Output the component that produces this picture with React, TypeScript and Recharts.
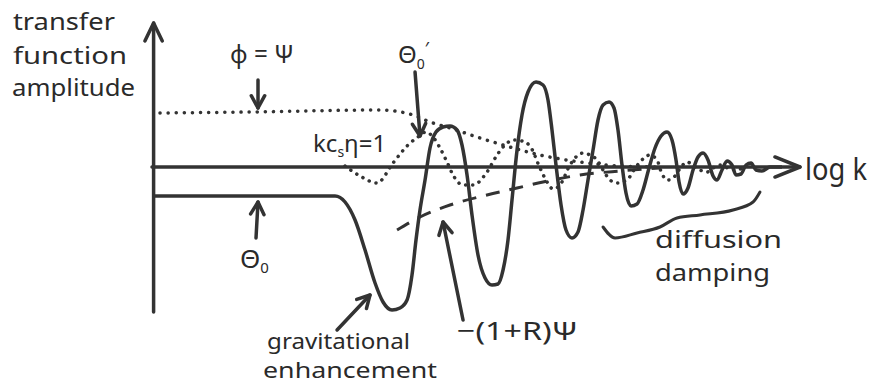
import React from 'react';
import { ComposedChart, Line, XAxis, YAxis, ReferenceLine, ReferenceDot } from 'recharts';

// x: log k (arbitrary units), y: transfer function amplitude (arbitrary units)
const theta0K = [0.02, 1.225, 2.288, 2.413, 2.538, 2.663, 2.788, 2.888, 3.0, 3.1, 3.188, 3.25, 3.3, 3.35, 3.413, 3.475, 3.55, 3.638, 3.725, 3.813, 3.875, 3.938, 4.0, 4.075, 4.163, 4.25, 4.325, 4.388, 4.45, 4.5, 4.563, 4.625, 4.7, 4.8, 4.888, 4.95, 5.0, 5.05, 5.113, 5.175, 5.25, 5.325, 5.388, 5.45, 5.513, 5.575, 5.638, 5.713, 5.775, 5.825, 5.875, 5.925, 5.988, 6.063, 6.138, 6.213, 6.288, 6.363, 6.438, 6.5, 6.55, 6.588, 6.638, 6.7, 6.763, 6.825, 6.888, 6.95, 7.013, 7.063, 7.125, 7.188, 7.25, 7.3, 7.363, 7.425, 7.488, 7.55, 7.625, 7.725, 7.875];
const theta0Amp = [-0.29, -0.29, -0.29, -0.35, -0.53, -0.83, -1.16, -1.35, -1.43, -1.41, -1.33, -1.08, -0.73, -0.43, -0.13, 0.19, 0.35, 0.4, 0.41, 0.37, 0.22, -0.08, -0.48, -0.88, -1.11, -1.18, -1.17, -1.03, -0.73, -0.33, 0.17, 0.52, 0.75, 0.85, 0.82, 0.67, 0.37, 0.02, -0.38, -0.63, -0.71, -0.65, -0.43, -0.13, 0.17, 0.47, 0.62, 0.65, 0.59, 0.37, 0.02, -0.26, -0.39, -0.37, -0.23, -0.01, 0.19, 0.31, 0.35, 0.27, 0.07, -0.15, -0.27, -0.21, -0.03, 0.1, 0.14, 0.07, -0.09, -0.13, -0.03, 0.06, 0.02, -0.08, -0.07, 0.02, 0.04, -0.03, -0.04, 0.0, 0.0];

const theta0PrimeK = [2.413, 2.6, 2.813, 3.013, 3.188, 3.325, 3.425, 3.513, 3.6, 3.688, 3.763, 3.888, 4.013, 4.188, 4.313, 4.413, 4.513, 4.625, 4.725, 4.85, 4.938, 5.013, 5.1, 5.225, 5.313, 5.388, 5.475, 5.563, 5.638, 5.725, 5.813, 5.938, 6.025, 6.1, 6.225, 6.313, 6.375, 6.45, 6.538, 6.613, 6.688, 6.775, 6.85, 6.938, 7.013, 7.1, 7.2, 7.288, 7.413];
const theta0PrimeAmp = [0.01, -0.09, -0.16, 0.04, 0.21, 0.3, 0.35, 0.3, 0.19, 0.05, -0.08, -0.18, -0.18, -0.05, 0.12, 0.22, 0.27, 0.26, 0.21, -0.01, -0.15, -0.22, -0.18, 0.02, 0.11, 0.14, 0.12, 0.07, -0.03, -0.13, -0.16, -0.13, -0.03, 0.05, 0.12, 0.07, -0.07, -0.13, -0.09, 0.0, 0.05, 0.01, -0.03, -0.05, -0.01, 0.02, -0.01, -0.03, 0.0];

const phiK = [0.1, 1.225, 2.85, 3.263, 3.475, 3.725, 4.1, 4.388, 4.85, 5.35, 5.85, 6.35];
const phiAmp = [0.54, 0.55, 0.57, 0.52, 0.45, 0.39, 0.29, 0.22, 0.12, 0.05, 0.01, 0.0];

const baryonK = [3.063, 3.35, 3.725, 4.188, 4.563, 4.888, 5.35, 5.85, 6.35];
const baryonAmp = [-0.63, -0.5, -0.38, -0.28, -0.21, -0.15, -0.08, -0.04, -0.01];

const braceK = [5.638, 5.788, 6.063, 6.35, 6.563, 6.85, 7.263, 7.513, 7.6];
const braceAmp = [-0.6, -0.71, -0.66, -0.6, -0.51, -0.48, -0.43, -0.35, -0.25];

const axisLabels = ['transfer', 'function', 'amplitude', 'log k'];
const curveLabels = ['φ = Ψ', 'Θ', 'kc', 'η=1'];
const noteLabels = ['gravitational', 'enhancement', 'diffusion', 'damping', '−(1+R)Ψ'];

const zip = (ks: number[], vs: number[]) => ks.map((k, i) => ({ k, v: vs[i] }));
const theta0Data = zip(theta0K, theta0Amp);
const theta0PrimeData = zip(theta0PrimeK, theta0PrimeAmp);
const phiData = zip(phiK, phiAmp);
const baryonData = zip(baryonK, baryonAmp);
const braceData = zip(braceK, braceAmp);

const INK = '#333333';
const FONT = '"Noto Sans", "DejaVu Sans", sans-serif';

const arrow = (head: number, spread = 0.5) => (p: any) => {
  const x1 = Number(p.x1), y1 = Number(p.y1), x2 = Number(p.x2), y2 = Number(p.y2);
  const ang = Math.atan2(y2 - y1, x2 - x1);
  const ax = x2 - head * Math.cos(ang - spread);
  const ay = y2 - head * Math.sin(ang - spread);
  const bx = x2 - head * Math.cos(ang + spread);
  const by = y2 - head * Math.sin(ang + spread);
  return (
    <g>
      <line x1={x1} y1={y1} x2={x2} y2={y2} stroke={INK} strokeWidth={3.5} strokeLinecap="round" />
      <polyline points={`${ax},${ay} ${x2},${y2} ${bx},${by}`} fill="none" stroke={INK} strokeWidth={3.5} strokeLinecap="round" strokeLinejoin="round" />
    </g>
  );
};

const txt = (content: React.ReactNode, size: number, len?: number) => (p: any) => (
  <text x={p.cx} y={p.cy} fontFamily={FONT} fontSize={size} fill="#2a2a2a" textLength={len} lengthAdjust={len ? 'spacingAndGlyphs' : undefined}>
    {content}
  </text>
);

const lineCommon = { dot: false, activeDot: false, isAnimationActive: false, type: 'monotone' as const, stroke: INK };

export default function App() {
  return (
    <div style={{ position: 'absolute', left: 0, top: 0, width: 872, height: 387, background: '#fff' }}>
      <ComposedChart width={872} height={387} margin={{ top: 0, right: 0, bottom: 0, left: 0 }}>
        <XAxis type="number" dataKey="k" domain={[-1.9, 9.0]} allowDataOverflow hide />
        <YAxis type="number" dataKey="v" domain={[-2.2, 1.67]} allowDataOverflow hide />

        {/* axes */}
        <ReferenceLine segment={[{ x: 0.02, y: -1.45 }, { x: 0.02, y: 1.44 }]} shape={arrow(20, 0.45)} ifOverflow="visible" />
        <ReferenceLine segment={[{ x: 0, y: 0.0 }, { x: 8.1, y: 0.0 }]} shape={arrow(27, 0.38)} ifOverflow="visible" />

        <Line {...lineCommon} data={baryonData} dataKey="v" strokeWidth={3} strokeDasharray="14 10" />
        <Line {...lineCommon} data={phiData} dataKey="v" strokeWidth={3.5} strokeDasharray="0.1 8" strokeLinecap="round" />
        <Line {...lineCommon} data={theta0PrimeData} dataKey="v" strokeWidth={3.5} strokeDasharray="0.1 7" strokeLinecap="round" />
        <Line {...lineCommon} data={theta0Data} dataKey="v" strokeWidth={3.5} strokeLinejoin="round" />
        <Line {...lineCommon} data={braceData} dataKey="v" strokeWidth={3} strokeLinecap="round" />

        {/* annotation arrows */}
        <ReferenceLine segment={[{ x: 1.325, y: 0.87 }, { x: 1.325, y: 0.59 }]} shape={arrow(14)} ifOverflow="visible" />
        <ReferenceLine segment={[{ x: 3.288, y: 0.95 }, { x: 3.35, y: 0.31 }]} shape={arrow(14)} ifOverflow="visible" />
        <ReferenceLine segment={[{ x: 1.3, y: -0.71 }, { x: 1.325, y: -0.35 }]} shape={arrow(14)} ifOverflow="visible" />
        <ReferenceLine segment={[{ x: 2.313, y: -1.63 }, { x: 2.725, y: -1.28 }]} shape={arrow(14)} ifOverflow="visible" />
        <ReferenceLine segment={[{ x: 3.888, y: -1.53 }, { x: 3.638, y: -0.55 }]} shape={arrow(14)} ifOverflow="visible" />

        {/* text */}
        <ReferenceDot x={-1.738} y={1.37} ifOverflow="visible" shape={txt(axisLabels[0], 23, 102)} />
        <ReferenceDot x={-1.738} y={1.03} ifOverflow="visible" shape={txt(axisLabels[1], 23, 114)} />
        <ReferenceDot x={-1.75} y={0.71} ifOverflow="visible" shape={txt(axisLabels[2], 23, 123)} />
        <ReferenceDot x={8.163} y={-0.13} ifOverflow="visible" shape={txt(axisLabels[3], 30, 62)} />
        <ReferenceDot x={0.975} y={1.04} ifOverflow="visible" shape={txt(curveLabels[0], 26, 64)} />
        <ReferenceDot x={3.075} y={1.04} ifOverflow="visible" shape={txt(<>{curveLabels[1]}<tspan fontSize={14} dy={6}>0</tspan><tspan dy={-14} fontSize={18}>′</tspan></>, 24)} />
        <ReferenceDot x={2.013} y={0.15} ifOverflow="visible" shape={txt(<>{curveLabels[2]}<tspan fontSize={14} dy={5}>s</tspan><tspan dy={-5}>{curveLabels[3]}</tspan></>, 24)} />
        <ReferenceDot x={1.1} y={-1.01} ifOverflow="visible" shape={txt(<>{curveLabels[1]}<tspan fontSize={15} dy={5}>0</tspan></>, 26)} />
        <ReferenceDot x={1.438} y={-1.82} ifOverflow="visible" shape={txt(noteLabels[0], 21, 143)} />
        <ReferenceDot x={1.388} y={-2.11} ifOverflow="visible" shape={txt(noteLabels[1], 21, 174)} />
        <ReferenceDot x={6.288} y={-0.81} ifOverflow="visible" shape={txt(noteLabels[2], 24, 127)} />
        <ReferenceDot x={6.288} y={-1.14} ifOverflow="visible" shape={txt(noteLabels[3], 24, 115)} />
        <ReferenceDot x={3.813} y={-1.73} ifOverflow="visible" shape={txt(noteLabels[4], 26, 121)} />
      </ComposedChart>
    </div>
  );
}
